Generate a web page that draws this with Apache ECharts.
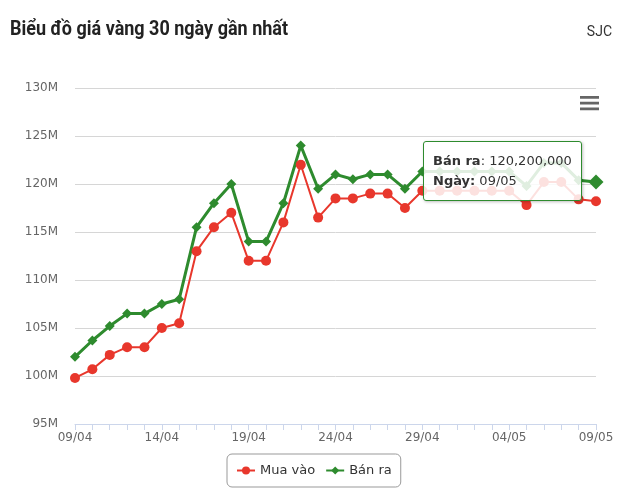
<!DOCTYPE html>
<html><head><meta charset="utf-8">
<script src="https://cdn.jsdelivr.net/npm/echarts@6/dist/echarts.min.js"></script>
<style>html,body{margin:0;padding:0;background:#fff}#c{width:640px;height:503px}</style>
</head><body><div id="c"></div>
<script>
const dates = ['09/04','10/04','11/04','12/04','13/04','14/04','15/04','16/04','17/04','18/04','19/04','20/04','21/04','22/04','23/04','24/04','25/04','26/04','27/04','28/04','29/04','30/04','01/05','02/05','03/05','04/05','05/05','06/05','07/05','08/05','09/05'];
const muaVao = [99800000,100700000,102200000,103000000,103000000,105000000,105500000,113000000,115500000,117000000,112000000,112000000,116000000,122000000,116500000,118500000,118500000,119000000,119000000,117500000,119300000,119300000,119300000,119300000,119300000,119300000,117800000,120200000,120200000,118400000,118200000];
const banRa = [102000000,103700000,105200000,106500000,106500000,107500000,108000000,115500000,118000000,120000000,114000000,114000000,118000000,124000000,119500000,121000000,120500000,121000000,121000000,119500000,121300000,121300000,121300000,121300000,121300000,121300000,119800000,122200000,122200000,120400000,120200000];
const yTicks = [95000000,100000000,105000000,110000000,115000000,120000000,125000000,130000000];

const chart = echarts.init(document.getElementById('c'));
const fmt = v => v.toLocaleString('en-US');
chart.setOption({
  animation: false,
  textStyle: {fontFamily: 'DejaVu Sans'},
  title: [
    {text: 'SJC', right: 23, top: 20, textStyle: {fontFamily: 'Roboto', fontWeight: 'normal', fontSize: 14, color: '#333'}}
  ],
  graphic: [
    {type: 'text', left: 10, top: 20, scaleX: 0.9,
     style: {text: 'Biểu đồ giá vàng 30 ngày gần nhất', font: 'bold 20px Roboto', fill: '#222'}}
  ],
  toolbox: {
    right: 26, top: 81, itemSize: 19,
    iconStyle: {color: '#666', borderColor: '#666', borderWidth: 0},
    feature: {myMenu: {show: true, title: '', icon: 'path://M0,0H20V3H0Z M0,6H20V9H0Z M0,12H20V15H0Z', onclick: function(){}}}
  },
  grid: {left: 75, right: 44, top: 88, bottom: 79},
  legend: {
    left: 227, top: 454, padding: [10, 9],
    borderColor: '#999', borderWidth: 1, borderRadius: 5,
    itemWidth: 18, itemHeight: 10, itemGap: 10,
    textStyle: {fontSize: 13, color: '#333'},
    data: ['Mua vào', 'Bán ra']
  },
  tooltip: {
    trigger: 'item', triggerOn: 'none', alwaysShowContent: true,
    position: [423, 141],
    backgroundColor: 'rgba(255,255,255,0.85)', borderColor: '#2e8b2e', borderWidth: 1,
    padding: [9, 9], extraCssText: 'border-radius:3px;box-shadow:1px 1px 3px rgba(0,0,0,0.25);',
    textStyle: {fontFamily: 'DejaVu Sans', fontSize: 13, color: '#333'},
    formatter: p => '<div style="line-height:20px"><b>' + p.seriesName + '</b>: ' + fmt(p.value) + '<br><b>Ngày:</b> ' + p.name + '</div>'
  },
  xAxis: {
    type: 'category', data: dates, boundaryGap: false,
    axisLine: {lineStyle: {color: '#ccd6eb'}},
    axisTick: {interval: 0, length: 6, lineStyle: {color: '#ccd6eb'}},
    axisLabel: {interval: 4, color: '#666', fontSize: 12, margin: 8}
  },
  yAxis: {
    type: 'value', min: yTicks[0], max: yTicks[yTicks.length-1], interval: 5000000,
    axisLabel: {formatter: v => (v/1000000) + 'M', color: '#666', fontSize: 12, margin: 17},
    splitLine: {lineStyle: {color: '#d6d6d6'}},
    axisLine: {show: false}, axisTick: {show: false}
  },
  series: [
    {name: 'Mua vào', type: 'line', data: muaVao, color: '#e8372c', showAllSymbol: true,
     symbol: 'circle', symbolSize: 10, lineStyle: {width: 2}, itemStyle: {color: '#e8372c'}},
    {name: 'Bán ra', type: 'line', data: banRa, color: '#2e8b2e', showAllSymbol: true,
     symbol: 'diamond', symbolSize: (v, p) => p.dataIndex === banRa.length - 1 ? 15 : 10,
     lineStyle: {width: 3}, itemStyle: {color: '#2e8b2e'}}
  ]
});
chart.dispatchAction({type: 'showTip', seriesIndex: 1, dataIndex: banRa.length - 1});
</script></body></html>
